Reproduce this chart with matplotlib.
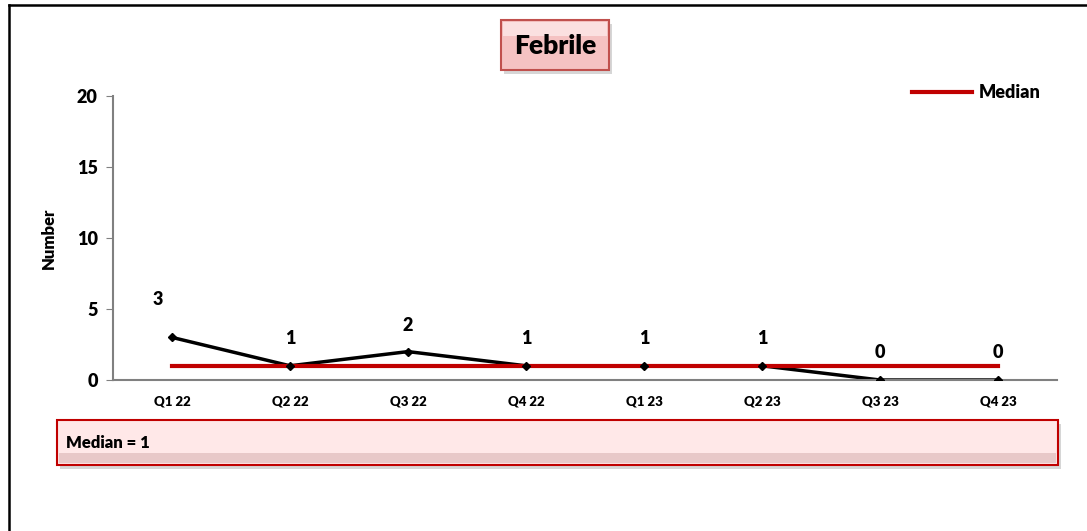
import numpy as np
import matplotlib.pyplot as plt
from matplotlib.patches import Rectangle
from matplotlib.lines import Line2D

plt.rcParams['font.family'] = ['Lato', 'DejaVu Sans']
W = "heavy"

quarters = ["Q1 22", "Q2 22", "Q3 22", "Q4 22", "Q1 23", "Q2 23", "Q3 23", "Q4 23"]
counts = [3, 1, 2, 1, 1, 1, 0, 0]
median_val = 1
# (dx, dy) of each data label in points
label_offsets = [(-10, 27), (0, 20), (0, 19), (0, 20), (0, 20), (0, 20), (0, 20), (0, 20)]

fig = plt.figure(figsize=(10.87, 5.31), dpi=100)

# outer frame (only top and left edge visible)
fig.add_artist(Line2D([9/1087, 9/1087], [0, 1 - 5/531], color="black", lw=1.8))
fig.add_artist(Line2D([9/1087, 1], [1 - 5/531, 1 - 5/531], color="black", lw=1.8))

ax = fig.add_axes([113/1087, 151/531, 944/1087, 284/531])
x = np.arange(len(quarters))

ax.plot(x, counts, color="black", lw=2.5, zorder=2)
ax.plot(x, [median_val] * len(x), color="#C00000", lw=3, zorder=3)
ax.plot(x, counts, ls="none", color="black", marker="D", markersize=4.5, zorder=4)

for i, v in enumerate(counts):
    ax.annotate(str(v), (x[i], v), xytext=label_offsets[i], textcoords="offset points",
                ha="center", va="center", fontsize=13, fontweight=W)

ax.set_xlim(-0.5, len(quarters) - 0.5)
ax.set_ylim(0, 20)
ax.set_yticks([0, 5, 10, 15, 20])
ax.set_xticks(x)
ax.set_xticklabels(quarters, fontsize=9.5, fontweight=W)
for lab in ax.get_yticklabels():
    lab.set_fontweight(W)
    lab.set_fontsize(13)
ax.tick_params(axis="x", length=0, pad=11)
ax.tick_params(axis="y", length=5, color="#808080", pad=6)
for s in ["top", "right"]:
    ax.spines[s].set_visible(False)
for s in ["left", "bottom"]:
    ax.spines[s].set_color("#808080")
    ax.spines[s].set_linewidth(1.5)
ax.set_ylabel("Number", fontsize=12, fontweight=W, labelpad=14)

# legend
ax.legend([Line2D([0], [0], color="#C00000", lw=3)], ["Median"], loc="upper right",
          bbox_to_anchor=(1.0, 1.1), frameon=False, prop={"weight": W, "size": 13},
          handlelength=3.3, handletextpad=0.4)

# boxes drawn in figure pixels
def fig_box(x0, y0, w, h, face, edge, shadow=True):
    if shadow:
        fig.add_artist(Rectangle((x0 / 1087 + 0.003, 1 - (y0 + h) / 531 - 0.008), w / 1087, h / 531,
                                 transform=fig.transFigure, facecolor="#bbbbbb", edgecolor="none",
                                 alpha=0.6, zorder=1))
    fig.add_artist(Rectangle((x0 / 1087, 1 - (y0 + h) / 531), w / 1087, h / 531,
                             transform=fig.transFigure, facecolor=face, edgecolor=edge, lw=1.5, zorder=2))

fig_box(501, 20, 108, 50, "#F5C2C2", "#C0504D")
fig.add_artist(Rectangle((503 / 1087, 1 - 36 / 531), 104 / 1087, 14 / 531, transform=fig.transFigure,
                         facecolor="#FBE0E0", edgecolor="none", zorder=2.5))
fig.text(555 / 1087, 1 - 46 / 531, "Febrile", ha="center", va="center", fontsize=19,
         fontweight=W, zorder=3)

fig_box(57, 420, 1001, 45, "#FFE8E8", "#C00000")
fig.add_artist(Rectangle((59 / 1087, 1 - 463 / 531), 997 / 1087, 10 / 531, transform=fig.transFigure,
                         facecolor="#E8C8C8", edgecolor="none", zorder=2.5))
fig.text(66 / 1087, 1 - 443 / 531, "Median = 1", ha="left", va="center", fontsize=12,
         fontweight=W, zorder=3)

fig.savefig("out.png", dpi=100)
